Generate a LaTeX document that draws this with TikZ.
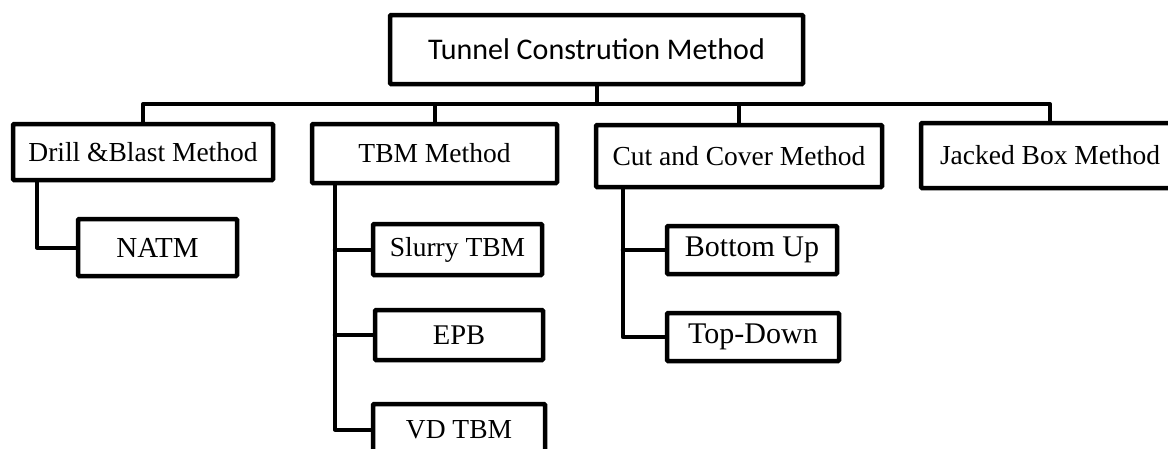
\documentclass[tikz,border=0pt]{standalone}
\usepackage{fontspec}
\setmainfont{Liberation Serif}
\newfontfamily\calfont{Carlito}
\begin{document}
\begin{tikzpicture}[x=1pt,y=-1pt,
  box/.style={draw=black,line width=4.5pt,fill=white,rectangle,rounded corners=1pt,
    inner sep=0pt,anchor=center,font=\fontsize{27.5}{30}\selectfont},
  bigtext/.style={font=\fontsize{30}{33}\selectfont},
  link/.style={draw=black,line width=4pt,line join=round,line cap=round}]
\useasboundingbox (0,0) rectangle (1168,448);
\clip (0,0) rectangle (1168,448);
% boxes
\node[box,minimum width=413pt,minimum height=69pt,font=\calfont\fontsize{30}{33}\selectfont] (top) at (596.5,49.5) {Tunnel Constrution Method};
\node[box,minimum width=260pt,minimum height=56pt] (drill) at (143,152) {Drill \&Blast Method};
\node[box,minimum width=245pt,minimum height=59pt] (tbm) at (434.5,153.5) {TBM Method};
\node[box,minimum width=286pt,minimum height=62pt] (cut) at (739,156) {Cut and Cover Method};
\node[box,minimum width=258pt,minimum height=65pt] (jacked) at (1050,155.5) {Jacked Box Method};
\node[box,minimum width=159pt,minimum height=57pt,font=\fontsize{29}{32}\selectfont] (natm) at (157.5,247.5) {NATM};
\node[box,minimum width=169pt,minimum height=51pt] (slurry) at (457.5,249.5) {Slurry TBM};
\node[box,minimum width=168pt,minimum height=50pt,font=\fontsize{28.5}{31}\selectfont] (epb) at (459,335) {EPB};
\node[box,minimum width=172pt,minimum height=51pt] (vd) at (459,429.5) {VD TBM};
\node[box,bigtext,minimum width=170pt,minimum height=48pt] (bu) at (752,250) {Bottom Up};
\node[box,bigtext,minimum width=172pt,minimum height=48pt] (td) at (753,337) {Top-Down};
% connectors
\coordinate (bar) at (0,104);
\draw[link] (top.south) -- (top.south |- bar);
\draw[link] (drill.north) -- (drill.north |- bar) -- (jacked.north |- bar) -- (jacked.north);
\draw[link] (tbm.north) -- (tbm.north |- bar);
\draw[link] (cut.north) -- (cut.north |- bar);
\coordinate (ds) at ([xshift=26pt]drill.south west);
\draw[link] (ds) |- (natm.west);
\coordinate (ts) at ([xshift=25pt]tbm.south west);
\draw[link] (ts) |- (vd.west);
\draw[link] (ts |- slurry.west) -- (slurry.west);
\draw[link] (ts |- epb.west) -- (epb.west);
\coordinate (cs) at ([xshift=29pt]cut.south west);
\draw[link] (cs) |- (td.west);
\draw[link] (cs |- bu.west) -- (bu.west);
\end{tikzpicture}
\end{document}
